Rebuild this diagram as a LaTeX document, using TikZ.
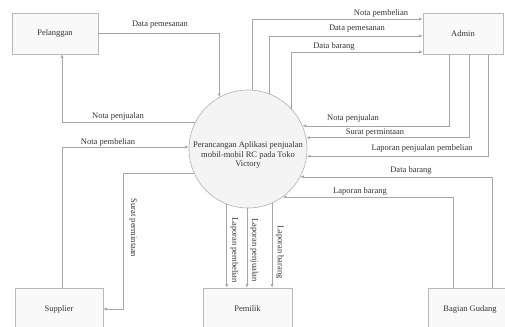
\documentclass[tikz,border=0pt]{standalone}
\usepackage{fontspec}
\setmainfont{Liberation Serif}
\usetikzlibrary{arrows.meta,shadows}
\begin{document}
\begin{tikzpicture}[x=1pt,y=-1pt,
  ent/.style={draw=gray!55, fill=gray!5, inner sep=0pt, line width=0.6pt,
    font=\fontsize{8.5}{10}\selectfont, text=black!80,
    drop shadow={opacity=0.12, shadow xshift=1.2pt, shadow yshift=-1.2pt}},
  proc/.style={circle, draw=gray!60, fill=gray!9, inner sep=0pt, minimum size=118pt, line width=0.6pt},
  flow/.style={draw=gray!70, line width=0.6pt, -{Latex[length=3.5pt,width=3pt]}},
  lbl/.style={font=\fontsize{8.5}{9.5}\selectfont, text=black!80, inner sep=1pt},
  vlbl/.style={lbl, rotate=-90}]
\useasboundingbox[fill=white] (0,0) rectangle (505,326);

% entities
\node[ent, minimum width=86pt, minimum height=41pt] (pel) at (55,33.5) {Pelanggan};
\node[ent, minimum width=80pt, minimum height=41pt] (adm) at (463,33.5) {Admin};
\node[ent, minimum width=88pt, minimum height=42pt] (sup) at (59,309) {Supplier};
\node[ent, minimum width=89pt, minimum height=42pt] (pem) at (247.5,309) {Pemilik};
\node[ent, minimum width=84pt, minimum height=42pt] (bg) at (470,309) {Bagian Gudang};

% process
\node[proc] (c) at (248,149) {};
\node[lbl, align=center] (ctext) at (248,155) {Perancangan Aplikasi penjualan\\mobil-mobil RC pada Toko\\Victory};

\coordinate (spx) at (123,0);

% flows
\draw[flow] (pel.east) -| (c.119);
\draw[flow] (c.153) -| ([xshift=7pt]pel.south);
\draw[flow] (c.86) |- ([yshift=14.5pt]adm.west);
\draw[flow] (c.69) |- ([yshift=-2.5pt]adm.west);
\draw[flow] (c.43) |- ([yshift=-18.5pt]adm.west);
\draw[flow] ([xshift=-14pt]adm.south) |- (c.23);
\draw[flow] ([xshift=6pt]adm.south) |- (c.11);
\draw[flow] ([xshift=25pt]adm.south) |- (c.-7);
\draw[flow] ([xshift=22pt]bg.north) |- (c.-28);
\draw[flow] ([xshift=-17pt]bg.north) |- (c.-54);
\draw[flow] (c.249) -- (c.249 |- pem.north);
\draw[flow] (c.269) -- (c.269 |- pem.north);
\draw[flow] (c.294) -- (c.294 |- pem.north);
\draw[flow] ([xshift=3pt]sup.north) |- (c.178);
\draw[flow] (c.204) -- (c.204 -| spx) |- (sup.east);

% labels
\node[lbl] (l1) at (160,25) {Data pemesanan};
\node[lbl] (l2) at (118,116) {Nota penjualan};
\node[lbl] (l3) at (381,13) {Nota pembelian};
\node[lbl] (l4) at (357,29) {Data pemesanan};
\node[lbl] (l5) at (334,46) {Data barang};
\node[lbl] (l6) at (353,118) {Nota penjualan};
\node[lbl] (l7) at (375,133) {Surat permintaan};
\node[lbl] (l8) at (422,148) {Laporan penjualan pembelian};
\node[lbl] (l9) at (411,170) {Data barang};
\node[lbl] (l10) at (360,191) {Laporan barang};
\node[lbl] (l11) at (108,142) {Nota pembelian};
\node[vlbl] (l12) at (133,228) {Surat permintaan};
\node[vlbl] (l13) at (234.5,250) {Laporan pembelian};
\node[vlbl] (l14) at (254.5,250) {Laporan penjualan};
\node[vlbl] (l15) at (280,252) {Laporan barang};
\end{tikzpicture}
\end{document}
